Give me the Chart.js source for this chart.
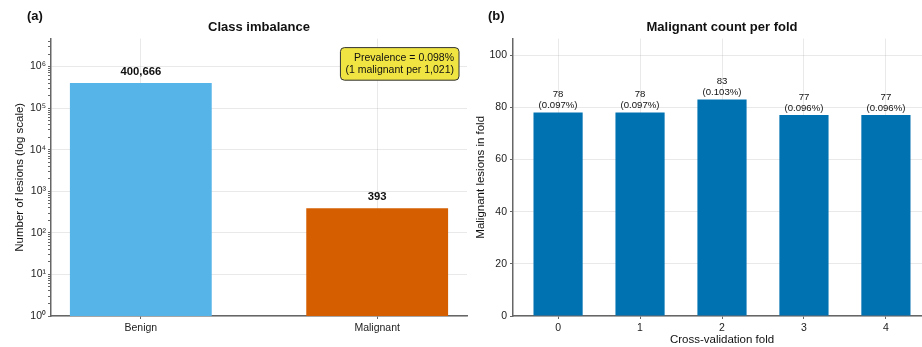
<!DOCTYPE html>
<html>
<head>
<meta charset="utf-8">
<script src="https://cdn.jsdelivr.net/npm/chart.js@4.4.1/dist/chart.umd.min.js"></script>
<style>
  html, body { margin: 0; padding: 0; background: #fff; overflow: hidden; }
  #wrap { position: relative; width: 932px; height: 347px; }
  .panel { position: absolute; top: 0; height: 347px; }
  .tag { position: absolute; top: 8px; font: bold 13px "Liberation Sans", Arial, sans-serif; color: #111; }
</style>
</head>
<body>
<div id="wrap">
  <div class="panel" style="left:0;width:470px"><canvas id="chart-a"></canvas></div>
  <div class="panel" style="left:470px;width:462px"><canvas id="chart-b"></canvas></div>
  <div class="tag" style="left:27px">(a)</div>
  <div class="tag" style="left:488px">(b)</div>
</div>
<script>
// panel (a) data
var classLabels = ["Benign", "Malignant"];
var classCounts = [400666, 393];
var classColors = ["#56B4E9", "#D55E00"];
var prevalenceText = ["Prevalence = 0.098%", "(1 malignant per 1,021)"];

// panel (b) data
var foldLabels = ["0", "1", "2", "3", "4"];
var foldCounts = [78, 78, 83, 77, 77];
var foldPercents = ["0.097%", "0.097%", "0.103%", "0.096%", "0.096%"];

var FONT = '"Liberation Sans", Arial, sans-serif';
var axisColor = "#666";
var gridColor = "rgba(176,176,176,0.28)";
Chart.defaults.font.family = FONT;
Chart.defaults.color = "#222";
Chart.defaults.animation = false;

var superDigits = {"0":"⁰","1":"¹","2":"²","3":"³","4":"⁴","5":"⁵","6":"⁶","7":"⁷","8":"⁸","9":"⁹"};
function powLabel(v) {
  var e = Math.round(Math.log10(v));
  return "10" + String(e).split("").map(function (c) { return superDigits[c]; }).join("");
}

// labels above the bars
var barLabels = {
  id: "barLabels",
  afterDatasetsDraw: function (chart, args, opts) {
    var ctx = chart.ctx;
    var meta = chart.getDatasetMeta(0);
    ctx.save();
    ctx.textAlign = "center";
    ctx.textBaseline = "bottom";
    ctx.fillStyle = "#111";
    ctx.font = opts.font;
    meta.data.forEach(function (bar, i) {
      var lines = opts.lines(i);
      for (var k = 0; k < lines.length; k++) {
        var y = bar.y - opts.gap - (lines.length - 1 - k) * opts.lineHeight;
        ctx.fillText(lines[k], bar.x, y);
      }
    });
    ctx.restore();
  }
};

// prevalence box in the top-right corner
var noteBox = {
  id: "noteBox",
  afterDraw: function (chart, args, opts) {
    if (!opts.lines) return;
    var ctx = chart.ctx, a = chart.chartArea;
    ctx.save();
    ctx.font = "10.5px " + FONT;
    var w = 0;
    opts.lines.forEach(function (t) { w = Math.max(w, ctx.measureText(t).width); });
    var pad = 5, lh = 11.8;
    var bw = w + pad * 2, bh = lh * opts.lines.length + 9;
    var x = a.right - 8 - bw, y = a.top + 9;
    ctx.beginPath();
    ctx.roundRect(x, y, bw, bh, 4);
    ctx.fillStyle = "#F0E442";
    ctx.fill();
    ctx.lineWidth = 1;
    ctx.strokeStyle = "#333";
    ctx.stroke();
    ctx.fillStyle = "#111";
    ctx.textAlign = "right";
    ctx.textBaseline = "middle";
    opts.lines.forEach(function (t, i) {
      ctx.fillText(t, x + bw - pad, y + 4.5 + lh * (i + 0.5));
    });
    ctx.restore();
  }
};

// one tick per category index
function indexTicks(labels) {
  return function (scale) {
    scale.ticks = labels.map(function (_, i) { return {value: i}; });
  };
}

// ---- panel (a)
var configA = {
  type: "bar",
  data: {
    datasets: [{
      data: classCounts.map(function (v, i) { return {x: i, y: v}; }),
      backgroundColor: classColors,
      borderWidth: 0,
      barPercentage: 0.6,
      categoryPercentage: 1
    }]
  },
  options: {
    responsive: false,
    layout: {padding: {left: 0, right: 3, top: 0, bottom: 0}},
    plugins: {
      legend: {display: false},
      tooltip: {enabled: false},
      title: {
        display: true, fullSize: false, text: "Class imbalance", color: "#111",
        font: {size: 13, weight: "bold"}, padding: {top: 20, bottom: 3}
      },
      barLabels: {
        font: "bold 11.3px " + FONT, gap: 6, lineHeight: 11,
        lines: function (i) { return [classCounts[i].toLocaleString("en-US")]; }
      },
      noteBox: {lines: prevalenceText}
    },
    scales: {
      x: {
        type: "linear", min: -0.38, max: 1.38, offset: false, z: 1,
        afterBuildTicks: indexTicks(classLabels),
        afterFit: function (s) { s.height = 31; },
        ticks: {
          autoSkip: false, maxRotation: 0, padding: 3, color: "#222",
          font: {size: 10.5},
          callback: function (v) { return classLabels[v]; }
        },
        grid: {offset: false, color: gridColor, tickColor: axisColor, tickLength: 3},
        border: {color: axisColor, width: 1.5}
      },
      y: {
        type: "logarithmic", min: 1, max: 4.7e6, z: 1,
        afterBuildTicks: function (scale) {
          var t = [];
          for (var e = 0; e <= 6; e++) {
            for (var k = 1; k <= 9; k++) {
              var v = k * Math.pow(10, e);
              if (v <= scale.max) t.push({value: v, major: k === 1});
            }
          }
          scale.ticks = t;
        },
        afterFit: function (s) { s.width = 51; },
        ticks: {
          autoSkip: false, padding: 2, color: "#222", font: {size: 10.5},
          callback: function (v) {
            var e = Math.log10(v);
            return Math.abs(e - Math.round(e)) < 1e-9 ? powLabel(v) : "";
          }
        },
        grid: {
          tickLength: 3,
          color: function (c) { return c.tick && c.tick.major ? gridColor : "rgba(0,0,0,0)"; },
          tickColor: axisColor
        },
        border: {color: axisColor, width: 1.5},
        title: {
          display: true, text: "Number of lesions (log scale)", color: "#111",
          font: {size: 11.5}, padding: {top: 13, bottom: 0}
        }
      }
    }
  },
  plugins: [barLabels, noteBox]
};

// ---- panel (b)
var configB = {
  type: "bar",
  data: {
    datasets: [{
      data: foldCounts.map(function (v, i) { return {x: i, y: v}; }),
      backgroundColor: "#0072B2",
      borderWidth: 0,
      barPercentage: 0.6,
      categoryPercentage: 1
    }]
  },
  options: {
    responsive: false,
    layout: {padding: {left: 0, right: 1, top: 0, bottom: 0}},
    plugins: {
      legend: {display: false},
      tooltip: {enabled: false},
      title: {
        display: true, fullSize: false, text: "Malignant count per fold", color: "#111",
        font: {size: 13, weight: "bold"}, padding: {top: 20, bottom: 3}
      },
      barLabels: {
        font: "9.6px " + FONT, gap: 2, lineHeight: 11,
        lines: function (i) { return [String(foldCounts[i]), "(" + foldPercents[i] + ")"]; }
      },
      noteBox: {lines: null}
    },
    scales: {
      x: {
        type: "linear", min: -0.55, max: 4.55, offset: false, z: 1,
        afterBuildTicks: indexTicks(foldLabels),
        afterFit: function (s) { s.height = 31; },
        ticks: {
          autoSkip: false, maxRotation: 0, padding: 3, color: "#222",
          font: {size: 10.5},
          callback: function (v) { return foldLabels[v]; }
        },
        grid: {offset: false, color: gridColor, tickColor: axisColor, tickLength: 3},
        border: {color: axisColor, width: 1.5},
        title: {
          display: true, text: "Cross-validation fold", color: "#111",
          font: {size: 11.5}, padding: {top: 0, bottom: 0}
        }
      },
      y: {
        type: "linear", min: 0, max: 106.3, z: 1,
        ticks: {stepSize: 20, includeBounds: false, autoSkip: false, padding: 3, color: "#222", font: {size: 10.5}},
        afterFit: function (s) { s.width = 43; },
        grid: {color: gridColor, tickColor: axisColor, tickLength: 3},
        border: {color: axisColor, width: 1.5},
        title: {
          display: true, text: "Malignant lesions in fold", color: "#111",
          font: {size: 11.5}, padding: {top: 4, bottom: 0}
        }
      }
    }
  },
  plugins: [barLabels, noteBox]
};

var canvasA = document.getElementById("chart-a");
var canvasB = document.getElementById("chart-b");
canvasA.width = 470; canvasA.height = 347;
canvasB.width = 462; canvasB.height = 347;
var chartA = new Chart(canvasA, configA);
var chartB = new Chart(canvasB, configB);
</script>
</body>
</html>
